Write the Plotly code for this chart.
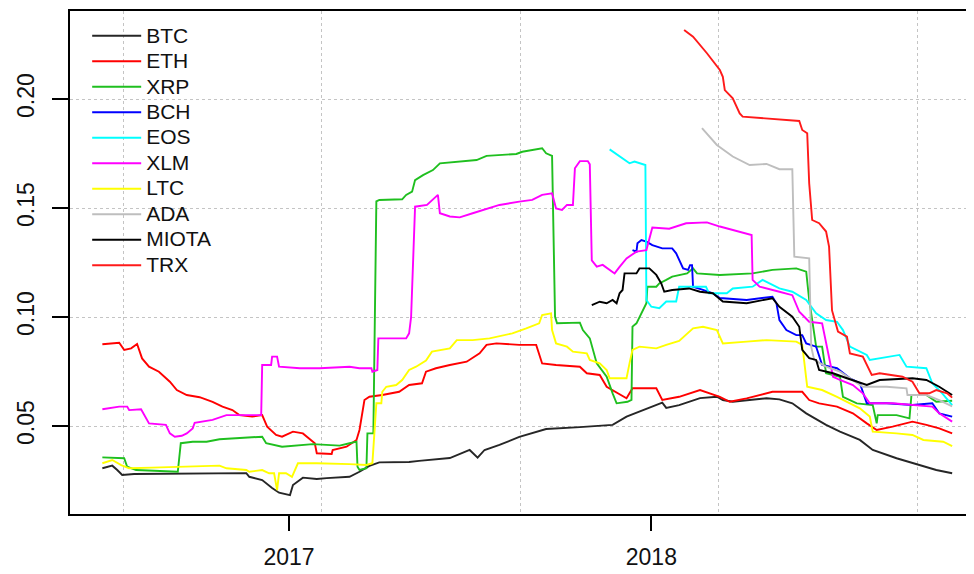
import plotly.graph_objects as go

names = ["BTC", "ETH", "XRP", "BCH", "EOS", "XLM", "LTC", "ADA", "MIOTA", "TRX"]
colors = ["#262626", "#ff0000", "#1fbf1f", "#0000ff", "#00ffff", "#ff00ff",
          "#ffff00", "#bebebe", "#000000", "#ff1a1a"]

BTC_dates = ["2016-06-27","2016-07-07","2016-07-12","2016-07-17","2016-07-29","2016-11-19","2016-11-22",
             "2016-12-05","2016-12-15","2016-12-22","2017-01-02","2017-01-05","2017-01-15","2017-01-29",
             "2017-02-08","2017-03-03","2017-03-13","2017-03-23","2017-04-02","2017-05-02","2017-05-12",
             "2017-06-12","2017-07-02","2017-07-10","2017-07-17","2017-08-01","2017-08-21","2017-09-17",
             "2017-10-21","2017-11-23","2017-12-07","2017-12-20","2018-01-12","2018-01-16","2018-01-29",
             "2018-02-19","2018-03-08","2018-03-14","2018-03-24","2018-04-27","2018-05-10","2018-05-23",
             "2018-06-06","2018-06-26","2018-07-10","2018-07-30","2018-08-12","2018-09-05","2018-09-28",
             "2018-10-15","2018-10-31"]
BTC_vals = [0.0306,0.0318,0.0298,0.0275,0.0280,0.0284,0.0267,
            0.0252,0.0216,0.0194,0.0183,0.0229,0.0263,0.0257,
            0.0261,0.0267,0.0290,0.0317,0.0333,0.0335,0.0340,
            0.0353,0.0390,0.0355,0.0390,0.0413,0.0450,0.0486,
            0.0495,0.0505,0.0543,0.0566,0.0607,0.0583,0.0596,
            0.0628,0.0634,0.0619,0.0611,0.0627,0.0622,0.0604,
            0.0558,0.0505,0.0474,0.0436,0.0390,0.0352,0.0321,
            0.0298,0.0283]

ETH_dates = ["2016-06-27","2016-07-14","2016-07-19","2016-07-26","2016-08-01","2016-08-06","2016-08-13",
             "2016-08-23","2016-09-03","2016-09-10","2016-09-20","2016-10-03","2016-10-16","2016-10-26",
             "2016-11-05","2016-11-12","2016-11-25","2016-12-05","2016-12-10","2016-12-19","2016-12-25",
             "2017-01-05","2017-01-15","2017-01-27","2017-01-29","2017-02-13","2017-02-14","2017-02-28",
             "2017-03-10","2017-03-13","2017-03-18","2017-03-23","2017-04-05","2017-04-22","2017-05-02",
             "2017-05-15","2017-05-19","2017-05-29","2017-06-12","2017-06-29","2017-07-12","2017-07-19",
             "2017-07-29","2017-08-21","2017-09-07","2017-09-10","2017-09-13","2017-09-27","2017-10-21",
             "2017-10-28","2017-11-10","2017-11-17","2017-11-23","2017-12-07","2017-12-13","2018-01-06",
             "2018-01-12","2018-01-29","2018-02-19","2018-03-11","2018-03-21","2018-04-07","2018-05-03",
             "2018-06-02","2018-06-09","2018-06-19","2018-07-07","2018-07-23","2018-08-06","2018-08-16",
             "2018-09-01","2018-09-21","2018-10-05","2018-10-18","2018-10-31"]
ETH_vals = [0.0875,0.0882,0.0849,0.0856,0.0876,0.0810,0.0772,
            0.0749,0.0703,0.0665,0.0642,0.0632,0.0611,0.0589,
            0.0573,0.0550,0.0543,0.0550,0.0497,0.0459,0.0451,
            0.0474,0.0466,0.0421,0.0375,0.0372,0.0390,0.0405,
            0.0436,0.0482,0.0619,0.0634,0.0642,0.0657,0.0688,
            0.0696,0.0749,0.0765,0.0780,0.0795,0.0833,0.0872,
            0.0879,0.0872,0.0872,0.0833,0.0787,0.0780,0.0772,
            0.0742,0.0734,0.0680,0.0665,0.0627,0.0673,0.0673,
            0.0619,0.0634,0.0665,0.0634,0.0611,0.0627,0.0657,
            0.0657,0.0619,0.0604,0.0589,0.0558,0.0512,0.0482,
            0.0497,0.0520,0.0505,0.0489,0.0466]

XRP_dates = ["2016-06-27","2016-07-19","2016-07-22","2016-07-31","2016-09-11","2016-09-14","2016-09-26",
             "2016-10-10","2016-10-23","2016-11-19","2016-12-05","2016-12-09","2016-12-25","2017-01-25",
             "2017-02-21","2017-03-03","2017-03-10","2017-03-11","2017-03-13","2017-03-20","2017-03-21",
             "2017-03-27","2017-03-30","2017-04-02","2017-04-25","2017-04-29","2017-05-05","2017-05-08",
             "2017-05-16","2017-05-26","2017-06-02","2017-07-09","2017-07-19","2017-08-18","2017-08-24",
             "2017-09-13","2017-09-17","2017-09-23","2017-09-26","2017-09-28","2017-10-21","2017-10-24",
             "2017-10-31","2017-11-07","2017-11-17","2017-11-23","2017-11-27","2017-12-08","2017-12-12",
             "2017-12-13","2017-12-17","2017-12-27","2017-12-28","2018-01-06","2018-01-09","2018-01-16",
             "2018-01-22","2018-02-06","2018-02-12","2018-02-16","2018-03-11","2018-04-13","2018-05-03",
             "2018-05-27","2018-06-06","2018-06-09","2018-06-16","2018-06-22","2018-06-26","2018-07-10",
             "2018-07-13","2018-07-27","2018-08-12","2018-08-16","2018-08-17","2018-09-05","2018-09-18",
             "2018-09-20","2018-10-05","2018-10-15","2018-10-31"]
XRP_vals = [0.0356,0.0352,0.0313,0.0298,0.0290,0.0421,0.0428,
            0.0428,0.0439,0.0448,0.0451,0.0421,0.0405,0.0417,
            0.0410,0.0421,0.0428,0.0313,0.0298,0.0306,0.0466,
            0.0466,0.1530,0.1537,0.1540,0.1560,0.1575,0.1628,
            0.1651,0.1674,0.1705,0.1720,0.1739,0.1748,0.1758,
            0.1774,0.1751,0.1739,0.1001,0.0971,0.0974,0.0940,
            0.0902,0.0787,0.0726,0.0650,0.0604,0.0611,0.0620,
            0.0956,0.0971,0.1063,0.1139,0.1139,0.1154,0.1170,
            0.1185,0.1200,0.1223,0.1200,0.1193,0.1200,0.1216,
            0.1223,0.1208,0.1078,0.0864,0.0864,0.0742,0.0726,
            0.0634,0.0604,0.0596,0.0512,0.0550,0.0550,0.0535,
            0.0642,0.0642,0.0611,0.0616]

BCH_dates = ["2017-12-13","2017-12-17","2017-12-18","2017-12-22","2017-12-27","2018-01-02","2018-01-12",
             "2018-01-22","2018-01-26","2018-01-29","2018-02-02","2018-02-07","2018-02-09","2018-02-11",
             "2018-02-12","2018-02-22","2018-03-04","2018-03-11","2018-04-07","2018-05-03","2018-05-07",
             "2018-05-10","2018-05-17","2018-05-27","2018-06-02","2018-06-06","2018-06-16","2018-06-22",
             "2018-07-07","2018-07-20","2018-07-30","2018-08-06","2018-08-26","2018-09-21","2018-10-11",
             "2018-10-18","2018-10-31"]
BCH_vals = [0.1307,0.1300,0.1338,0.1353,0.1346,0.1330,0.1315,
            0.1315,0.1292,0.1261,0.1223,0.1216,0.1238,0.1238,
            0.1139,0.1124,0.1109,0.1087,0.1078,0.1093,0.1063,
            0.0986,0.0940,0.0917,0.0917,0.0879,0.0864,0.0780,
            0.0765,0.0719,0.0696,0.0604,0.0604,0.0596,0.0604,
            0.0558,0.0543]

EOS_dates = ["2017-11-20","2017-11-30","2017-12-10","2017-12-15","2017-12-26","2017-12-27","2018-01-01",
             "2018-01-09","2018-01-16","2018-01-26","2018-01-29","2018-02-25","2018-02-28","2018-03-18",
             "2018-03-24","2018-04-13","2018-04-23","2018-04-30","2018-05-10","2018-05-23","2018-06-06",
             "2018-06-16","2018-06-26","2018-07-07","2018-07-13","2018-07-20","2018-08-06","2018-08-09",
             "2018-08-19","2018-09-08","2018-09-15","2018-10-05","2018-10-11","2018-10-21","2018-10-31"]
EOS_vals = [0.1769,0.1735,0.1705,0.1713,0.1697,0.1078,0.1047,
            0.1040,0.1071,0.1071,0.1139,0.1139,0.1109,0.1109,
            0.1131,0.1139,0.1170,0.1154,0.1131,0.1116,0.1078,
            0.1017,0.0986,0.0978,0.0940,0.0864,0.0826,0.0803,
            0.0811,0.0826,0.0772,0.0765,0.0696,0.0650,0.0596]

XLM_dates = ["2016-06-27","2016-07-14","2016-07-22","2016-07-24","2016-08-05","2016-08-08","2016-08-13",
             "2016-08-30","2016-09-03","2016-09-08","2016-09-15","2016-09-20","2016-09-26","2016-09-28",
             "2016-10-16","2016-10-30","2016-12-04","2016-12-05","2016-12-14","2016-12-15","2016-12-20",
             "2016-12-22","2017-01-12","2017-02-01","2017-03-03","2017-03-13","2017-03-25","2017-03-26",
             "2017-03-31","2017-04-01","2017-04-29","2017-05-02","2017-05-04","2017-05-08","2017-05-20",
             "2017-05-31","2017-06-02","2017-06-12","2017-06-22","2017-07-05","2017-07-15","2017-08-01",
             "2017-08-21","2017-09-03","2017-09-13","2017-09-23","2017-09-27","2017-10-03","2017-10-08",
             "2017-10-14","2017-10-16","2017-10-21","2017-10-29","2017-10-31","2017-11-02","2017-11-07",
             "2017-11-13","2017-11-25","2017-11-30","2017-12-07","2017-12-17","2017-12-27","2018-01-02",
             "2018-01-19","2018-02-05","2018-02-26","2018-03-11","2018-03-31","2018-04-12","2018-04-13",
             "2018-04-20","2018-05-10","2018-05-23","2018-05-30","2018-06-09","2018-06-22","2018-06-27",
             "2018-07-03","2018-07-10","2018-07-23","2018-08-02","2018-08-09","2018-09-01","2018-09-21",
             "2018-10-11","2018-10-18","2018-10-31"]
XLM_vals = [0.0577,0.0589,0.0589,0.0573,0.0577,0.0550,0.0512,
            0.0505,0.0466,0.0451,0.0455,0.0466,0.0489,0.0515,
            0.0528,0.0550,0.0550,0.0780,0.0780,0.0818,0.0818,
            0.0772,0.0765,0.0765,0.0772,0.0765,0.0765,0.0749,
            0.0757,0.0902,0.0902,0.0925,0.1000,0.1506,0.1514,
            0.1560,0.1476,0.1461,0.1457,0.1476,0.1491,0.1514,
            0.1529,0.1537,0.1560,0.1567,0.1498,0.1491,0.1514,
            0.1514,0.1682,0.1715,0.1715,0.1700,0.1260,0.1231,
            0.1239,0.1200,0.1230,0.1269,0.1300,0.1307,0.1410,
            0.1405,0.1430,0.1434,0.1415,0.1392,0.1376,0.1170,
            0.1139,0.1116,0.1100,0.1024,0.0978,0.0971,0.0864,
            0.0726,0.0711,0.0688,0.0650,0.0604,0.0604,0.0596,
            0.0589,0.0558,0.0520]

LTC_dates = ["2016-06-27","2016-07-07","2016-07-16","2016-07-24","2016-08-16","2016-09-13","2016-10-16",
             "2016-10-23","2016-10-30","2016-11-19","2016-11-22","2016-12-05","2016-12-12","2016-12-17",
             "2016-12-20","2016-12-22","2016-12-29","2017-01-04","2017-01-10","2017-01-29","2017-03-03",
             "2017-03-20","2017-03-26","2017-03-30","2017-04-04","2017-04-05","2017-04-09","2017-04-19",
             "2017-04-25","2017-05-02","2017-05-09","2017-05-19","2017-05-25","2017-06-12","2017-06-19",
             "2017-07-05","2017-07-22","2017-08-14","2017-08-28","2017-09-10","2017-09-13","2017-09-22",
             "2017-09-23","2017-09-27","2017-10-08","2017-10-14","2017-10-28","2017-10-31","2017-11-10",
             "2017-11-17","2017-11-20","2017-12-07","2017-12-10","2017-12-13","2017-12-20","2018-01-06",
             "2018-01-16","2018-01-29","2018-02-12","2018-02-22","2018-03-08","2018-03-14","2018-04-07",
             "2018-04-27","2018-05-27","2018-06-02","2018-06-07","2018-06-22","2018-07-07","2018-07-17",
             "2018-07-30","2018-08-09","2018-08-12","2018-09-05","2018-09-21","2018-10-02","2018-10-22",
             "2018-10-31"]
LTC_vals = [0.0329,0.0344,0.0321,0.0306,0.0309,0.0313,0.0318,
            0.0318,0.0306,0.0298,0.0290,0.0298,0.0283,0.0283,
            0.0206,0.0283,0.0283,0.0267,0.0329,0.0329,0.0325,
            0.0321,0.0329,0.0604,0.0604,0.0657,0.0680,0.0688,
            0.0711,0.0757,0.0772,0.0800,0.0841,0.0856,0.0894,
            0.0894,0.0902,0.0925,0.0948,0.0971,0.1009,0.1017,
            0.0940,0.0879,0.0864,0.0841,0.0833,0.0803,0.0787,
            0.0757,0.0719,0.0719,0.0787,0.0849,0.0864,0.0856,
            0.0872,0.0890,0.0948,0.0955,0.0940,0.0879,0.0887,
            0.0894,0.0887,0.0872,0.0680,0.0665,0.0634,0.0611,
            0.0581,0.0543,0.0474,0.0466,0.0459,0.0436,0.0428,
            0.0408]

ADA_dates = ["2018-02-21","2018-03-08","2018-03-24","2018-04-10","2018-04-27","2018-05-10","2018-05-23",
             "2018-05-25","2018-06-09","2018-06-11","2018-06-14","2018-06-26","2018-07-10","2018-08-02",
             "2018-08-26","2018-09-15","2018-09-16","2018-10-05","2018-10-18","2018-10-31"]
ADA_vals = [0.1866,0.1789,0.1736,0.1697,0.1702,0.1678,0.1678,
            0.1277,0.1269,0.0864,0.0803,0.0772,0.0749,0.0680,
            0.0680,0.0673,0.0642,0.0642,0.0619,0.0590]

MIOTA_dates = ["2017-11-02","2017-11-10","2017-11-17","2017-11-23","2017-11-27","2017-11-30","2017-12-03",
               "2017-12-05","2017-12-10","2017-12-17","2017-12-20","2017-12-30","2018-01-06","2018-01-11",
               "2018-01-14","2018-01-22","2018-02-08","2018-02-19","2018-03-04","2018-03-14","2018-04-07",
               "2018-05-03","2018-05-10","2018-05-23","2018-05-30","2018-06-02","2018-06-09","2018-06-16",
               "2018-06-19","2018-07-03","2018-07-17","2018-08-06","2018-08-19","2018-09-21","2018-10-05",
               "2018-10-18","2018-10-31"]
MIOTA_vals = [0.1055,0.1070,0.1063,0.1078,0.1063,0.1109,0.1124,
              0.1200,0.1200,0.1200,0.1223,0.1223,0.1193,0.1154,
              0.1116,0.1124,0.1131,0.1116,0.1109,0.1071,0.1063,
              0.1086,0.1047,0.1001,0.0955,0.0849,0.0811,0.0803,
              0.0757,0.0742,0.0719,0.0688,0.0711,0.0719,0.0711,
              0.0680,0.0642]

TRX_dates = ["2018-02-03","2018-02-12","2018-02-26","2018-03-11","2018-03-14","2018-03-16","2018-03-24",
             "2018-03-31","2018-04-03","2018-04-23","2018-05-30","2018-06-02","2018-06-07","2018-06-09",
             "2018-06-12","2018-06-19","2018-06-26","2018-06-29","2018-07-02","2018-07-08","2018-07-17",
             "2018-07-20","2018-08-02","2018-08-11","2018-08-19","2018-09-11","2018-09-21","2018-09-28",
             "2018-10-08","2018-10-15","2018-10-26","2018-10-31"]
TRX_vals = [0.2317,0.2286,0.2210,0.2133,0.2102,0.2041,0.2003,
            0.1934,0.1919,0.1911,0.1899,0.1858,0.1843,0.1613,
            0.1445,0.1430,0.1392,0.1323,0.1030,0.0933,0.0910,
            0.0833,0.0818,0.0734,0.0742,0.0726,0.0703,0.0650,
            0.0650,0.0665,0.0650,0.0630]

series_dates = [BTC_dates, ETH_dates, XRP_dates, BCH_dates, EOS_dates,
                XLM_dates, LTC_dates, ADA_dates, MIOTA_dates, TRX_dates]
series_vals = [BTC_vals, ETH_vals, XRP_vals, BCH_vals, EOS_vals,
               XLM_vals, LTC_vals, ADA_vals, MIOTA_vals, TRX_vals]

year_ticks = ["2017-01-01", "2018-01-01"]
year_labels = ["2017", "2018"]
y_ticks = [0.05, 0.10, 0.15, 0.20]
y_labels = ["0.05", "0.10", "0.15", "0.20"]

FONT = "Liberation Sans, Arial, Helvetica, sans-serif"
LEG_TEXT_PX = 21

fig = go.Figure()
for n, c, d, v in zip(names, colors, series_dates, series_vals):
    fig.add_trace(go.Scatter(
        x=d, y=v, mode="lines", line=dict(color=c, width=1.9),
        name=f"<span style='font-size:{LEG_TEXT_PX}px'>{n}</span>",
        hovertemplate=n + "<br>%{x|%Y-%m-%d}: %{y:.4f}<extra></extra>"))

# the page body has an 8px default margin, so the figure is sized to fit the window
fig.update_layout(
    width=966, height=566,
    margin=dict(l=62, r=0, t=3, b=60, autoexpand=False),
    paper_bgcolor="white", plot_bgcolor="white",
    font=dict(family=FONT, color="black"),
    showlegend=True,
    legend=dict(x=0.019, y=0.986, xanchor="left", yanchor="top",
                bgcolor="rgba(0,0,0,0)", borderwidth=0,
                font=dict(size=17.3, family=FONT, color="#111111"),
                itemwidth=49, tracegroupgap=0),
    xaxis=dict(type="date", range=["2016-05-25 10:00", "2018-11-22"], automargin=False,
               tickmode="array", tickvals=year_ticks, ticktext=year_labels,
               ticks="outside", ticklen=15, tickwidth=1.6, tickcolor="black",
               ticklabelstandoff=6,
               tickfont=dict(size=23, family=FONT, color="#111111"),
               showgrid=False, zeroline=False,
               showline=True, linecolor="black", linewidth=1.8, mirror=True,
               minor=dict(tickmode="linear", tick0="2016-07-18", dtick=200 * 86400000,
                          showgrid=True, gridcolor="#c4c4c4", griddash="dot",
                          gridwidth=1.3, ticklen=0)),
    yaxis=dict(range=[0.00963, 0.24037], automargin=False,
               tickmode="array", tickvals=y_ticks, ticktext=y_labels,
               tickangle=-90,
               ticks="outside", ticklen=16, tickwidth=1.6, tickcolor="black",
               ticklabelstandoff=9,
               tickfont=dict(size=23, family=FONT, color="#111111"),
               showgrid=True, gridcolor="#c4c4c4", griddash="dot", gridwidth=1.3,
               zeroline=False,
               showline=True, linecolor="black", linewidth=1.8, mirror=False),
)

fig.write_html("out.html")
